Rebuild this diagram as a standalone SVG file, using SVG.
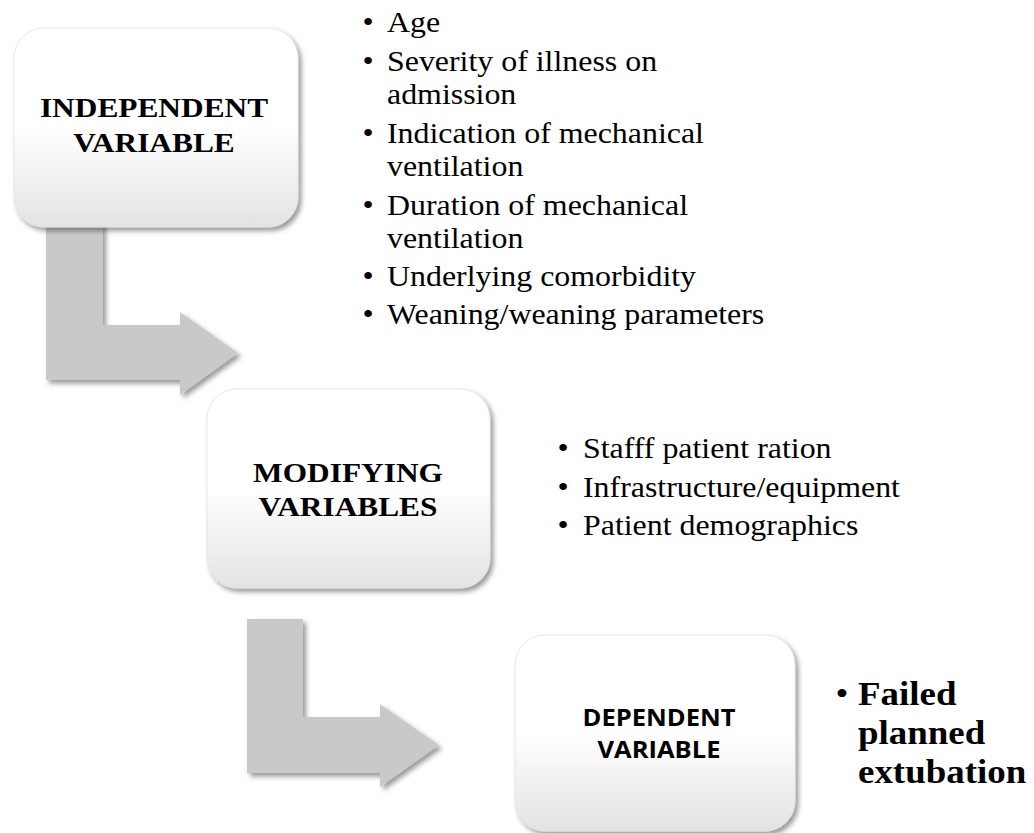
<svg xmlns="http://www.w3.org/2000/svg" width="1034" height="833" viewBox="0 0 1034 833">
  <defs>
    <linearGradient id="boxFill" x1="0" y1="0" x2="0" y2="1">
      <stop offset="0" stop-color="#ffffff"/>
      <stop offset="0.5" stop-color="#ffffff"/>
      <stop offset="1" stop-color="#e3e3e3"/>
    </linearGradient>
    <filter id="shadow" x="-10%" y="-10%" width="125%" height="125%">
      <feDropShadow dx="3" dy="3.5" stdDeviation="2.8" flood-color="#000000" flood-opacity="0.4"/>
    </filter>
  </defs>
  <style>
    .box { fill: url(#boxFill); stroke: #e2e2e2; stroke-width: 0.8; filter: url(#shadow); }
    .bend { fill: #c9c9c9; filter: url(#shadow); }
    .title { font-family: "Liberation Serif", "Times New Roman", serif; font-weight: bold; font-size: 28px; fill: #000; text-anchor: middle; }
    .title-sans { font-family: "Open Sans", "Liberation Sans", sans-serif; font-weight: bold; font-size: 24px; fill: #000; text-anchor: middle; }
    .item { font-family: "Liberation Serif", "Times New Roman", serif; font-size: 29px; fill: #000; }
    .item-bold { font-family: "Liberation Serif", "Times New Roman", serif; font-weight: bold; font-size: 33px; fill: #000; }
    .dot { text-anchor: middle; font-weight: normal; }
  </style>

  <rect width="1034" height="833" fill="#ffffff"/>

  <!-- bent arrows linking the stages -->
  <g id="connectors">
    <path class="bend" d="M46,222 H103 V325 H180 V312 L238,353 L180,395 V380 H46 Z"/>
    <path class="bend" d="M247,619 H303 V717 H380 V704 L439,745 L380,787 V773 H247 Z"/>
  </g>

  <g id="independent">
    <rect class="box" x="14" y="28" width="284" height="199" rx="30" ry="30"/>
    <text class="title" transform="translate(154 117) scale(1.12 1)">INDEPENDENT</text>
    <text class="title" transform="translate(154 152) scale(1.12 1)">VARIABLE</text>
  </g>

  <g id="independent-list">
    <text class="item dot" transform="translate(368 32) scale(1.1 1)">•</text>
    <text class="item" transform="translate(387 32) scale(1.1 1)">Age</text>
    <text class="item dot" transform="translate(368 71) scale(1.1 1)">•</text>
    <text class="item" transform="translate(387 71) scale(1.1 1)">Severity of illness on</text>
    <text class="item" transform="translate(387 104) scale(1.1 1)">admission</text>
    <text class="item dot" transform="translate(368 143) scale(1.1 1)">•</text>
    <text class="item" transform="translate(387 143) scale(1.1 1)">Indication of mechanical</text>
    <text class="item" transform="translate(387 176) scale(1.1 1)">ventilation</text>
    <text class="item dot" transform="translate(368 215) scale(1.1 1)">•</text>
    <text class="item" transform="translate(387 215) scale(1.1 1)">Duration of mechanical</text>
    <text class="item" transform="translate(387 248) scale(1.1 1)">ventilation</text>
    <text class="item dot" transform="translate(368 286) scale(1.1 1)">•</text>
    <text class="item" transform="translate(387 286) scale(1.1 1)">Underlying comorbidity</text>
    <text class="item dot" transform="translate(368 324) scale(1.1 1)">•</text>
    <text class="item" transform="translate(387 324) scale(1.1 1)">Weaning/weaning parameters</text>
  </g>

  <g id="modifying">
    <rect class="box" x="207" y="389" width="283" height="199" rx="30" ry="30"/>
    <text class="title" transform="translate(348 482) scale(1.12 1)">MODIFYING</text>
    <text class="title" transform="translate(348 516) scale(1.12 1)">VARIABLES</text>
  </g>

  <g id="modifying-list">
    <text class="item dot" transform="translate(563 458) scale(1.1 1)">•</text>
    <text class="item" transform="translate(583 458) scale(1.1 1)">Stafff patient ration</text>
    <text class="item dot" transform="translate(563 497) scale(1.1 1)">•</text>
    <text class="item" transform="translate(583 497) scale(1.1 1)">Infrastructure/equipment</text>
    <text class="item dot" transform="translate(563 535) scale(1.1 1)">•</text>
    <text class="item" transform="translate(583 535) scale(1.1 1)">Patient demographics</text>
  </g>

  <g id="dependent">
    <rect class="box" x="515" y="635" width="280" height="196" rx="30" ry="30"/>
    <text class="title-sans" x="659" y="726" textLength="153" lengthAdjust="spacingAndGlyphs">DEPENDENT</text>
    <text class="title-sans" x="659" y="758" textLength="123" lengthAdjust="spacingAndGlyphs">VARIABLE</text>
  </g>

  <g id="dependent-list">
    <text class="item-bold dot" transform="translate(842 705) scale(1.12 1)">•</text>
    <text class="item-bold" transform="translate(858 705) scale(1.12 1)">Failed</text>
    <text class="item-bold" transform="translate(858 744) scale(1.12 1)">planned</text>
    <text class="item-bold" transform="translate(858 783) scale(1.12 1)">extubation</text>
  </g>
</svg>
